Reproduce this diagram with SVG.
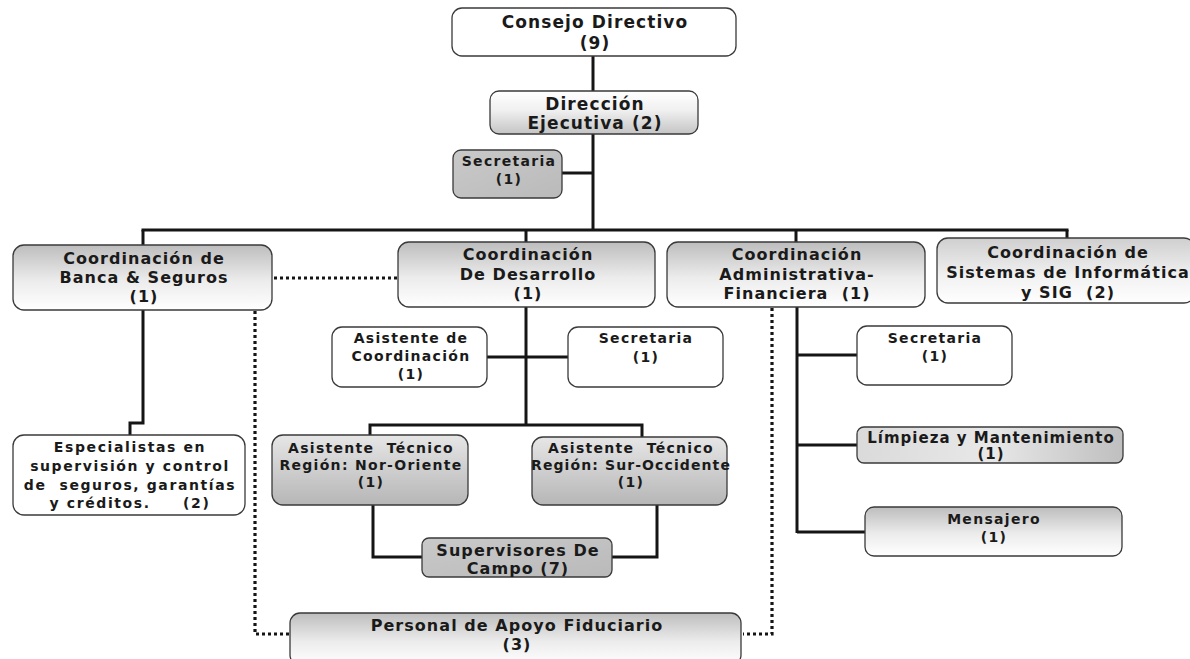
<svg xmlns="http://www.w3.org/2000/svg" width="1190" height="659" viewBox="0 0 1190 659">
<style>
.box{stroke:#3a3a3a;stroke-width:1.3}
.t{font-family:"DejaVu Sans","Liberation Sans",Arial,sans-serif;font-weight:bold;fill:#1a1a1a;text-anchor:middle}
.f18{font-size:17px;letter-spacing:1.1px}
.f17{font-size:16px;letter-spacing:1.05px}
.f16{font-size:15px;letter-spacing:1px}
.f15{font-size:14px;letter-spacing:1.3px}
.ln{stroke:#151515;stroke-width:3;fill:none}
.dot{stroke:#151515;stroke-width:3.2;fill:none;stroke-dasharray:3 3}
</style>
<defs>
<linearGradient id="gTop" x1="0" y1="0" x2="0" y2="1">
<stop offset="0" stop-color="#bdbdbd"/><stop offset="0.55" stop-color="#ececec"/><stop offset="1" stop-color="#ffffff"/>
</linearGradient>
<linearGradient id="gTopL" x1="0" y1="0" x2="0" y2="1">
<stop offset="0" stop-color="#cfcfcf"/><stop offset="0.6" stop-color="#f2f2f2"/><stop offset="1" stop-color="#ffffff"/>
</linearGradient>
<linearGradient id="gBot" x1="0" y1="0" x2="0" y2="1">
<stop offset="0" stop-color="#ffffff"/><stop offset="0.45" stop-color="#f0f0f0"/><stop offset="1" stop-color="#c4c4c4"/>
</linearGradient>
<linearGradient id="gAT" x1="0" y1="0" x2="0" y2="1">
<stop offset="0" stop-color="#e6e6e6"/><stop offset="1" stop-color="#b6b6b6"/>
</linearGradient>
<linearGradient id="gGray" x1="0" y1="0" x2="1" y2="1">
<stop offset="0" stop-color="#c9c9c9"/><stop offset="1" stop-color="#bababa"/>
</linearGradient>
<linearGradient id="gLimp" x1="0" y1="0" x2="1" y2="0">
<stop offset="0" stop-color="#dadada"/><stop offset="0.5" stop-color="#e8e8e8"/><stop offset="1" stop-color="#bfbfbf"/>
</linearGradient>
</defs>
<rect width="1190" height="659" fill="#ffffff"/>

<g id="connectors">
<line class="ln" x1="593" y1="56" x2="593" y2="91"/>
<line class="ln" x1="593" y1="134" x2="593" y2="230"/>
<line class="ln" x1="562" y1="173" x2="593" y2="173"/>
<line class="ln" x1="141.5" y1="230" x2="1068.5" y2="230"/>
<line class="ln" x1="143" y1="230" x2="143" y2="245"/>
<line class="ln" x1="526" y1="230" x2="526" y2="242"/>
<line class="ln" x1="796" y1="230" x2="796" y2="242"/>
<line class="ln" x1="1067" y1="230" x2="1067" y2="238"/>
<polyline class="ln" points="143,310 143,423 130,423 130,435"/>
<line class="ln" x1="526" y1="307" x2="526" y2="425"/>
<line class="ln" x1="487" y1="357" x2="568" y2="357"/>
<polyline class="ln" points="370,435 370,425 642,425 642,437"/>
<polyline class="ln" points="373,505 373,557 422,557"/>
<polyline class="ln" points="657,505 657,557 612,557"/>
<line class="ln" x1="797" y1="307" x2="797" y2="533"/>
<line class="ln" x1="797" y1="355" x2="857" y2="355"/>
<line class="ln" x1="797" y1="445" x2="857" y2="445"/>
<line class="ln" x1="797" y1="532" x2="865" y2="532"/>
<line class="dot" x1="274" y1="278" x2="398" y2="278"/>
<polyline class="dot" points="255,311 255,634 289,634"/>
<polyline class="dot" points="772,308 772,634 743,634"/>
</g>

<g id="consejo">
<rect class="box" x="452" y="8" width="284" height="48" rx="10" fill="#ffffff"/>
<text class="t f18" x="595" y="28">Consejo Directivo</text>
<text class="t f18" x="595" y="49">(9)</text>
</g>
<g id="direccion">
<rect class="box" x="490" y="91" width="208" height="43" rx="9" fill="url(#gBot)"/>
<text class="t f18" x="595" y="110">Dirección</text>
<text class="t f18" x="595" y="129">Ejecutiva (2)</text>
</g>
<g id="secretaria-dir">
<rect class="box" x="453" y="150" width="109" height="48" rx="8" fill="url(#gGray)"/>
<text class="t f15" x="509" y="166">Secretaria</text>
<text class="t f15" x="509" y="184">(1)</text>
</g>
<g id="banca">
<rect class="box" x="13" y="245" width="259" height="65" rx="11" fill="url(#gTop)"/>
<text class="t f17" x="144" y="264">Coordinación de</text>
<text class="t f17" x="144" y="283">Banca &amp; Seguros</text>
<text class="t f17" x="144" y="302">(1)</text>
</g>
<g id="desarrollo">
<rect class="box" x="398" y="242" width="257" height="65" rx="11" fill="url(#gTop)"/>
<text class="t f17" x="528" y="260">Coordinación</text>
<text class="t f17" x="528" y="280">De Desarrollo</text>
<text class="t f17" x="528" y="299">(1)</text>
</g>
<g id="administrativa">
<rect class="box" x="667" y="242" width="258" height="65" rx="11" fill="url(#gTop)"/>
<text class="t f17" x="797" y="260">Coordinación</text>
<text class="t f17" x="797" y="280">Administrativa-</text>
<text class="t f17" x="797" y="299" xml:space="preserve">Financiera  (1)</text>
</g>
<g id="sistemas">
<rect class="box" x="937" y="238" width="258" height="65" rx="11" fill="url(#gTopL)"/>
<text class="t f17" x="1068" y="258">Coordinación de</text>
<text class="t f17" x="1068" y="278">Sistemas de Informática</text>
<text class="t f17" x="1068" y="298" xml:space="preserve">y SIG  (2)</text>
</g>
<g id="asistente-coord">
<rect class="box" x="332" y="327" width="155" height="60" rx="10" fill="#ffffff"/>
<text class="t f15" x="411" y="343">Asistente de</text>
<text class="t f15" x="411" y="361">Coordinación</text>
<text class="t f15" x="411" y="379">(1)</text>
</g>
<g id="secretaria-des">
<rect class="box" x="568" y="327" width="155" height="60" rx="10" fill="#ffffff"/>
<text class="t f15" x="646" y="343">Secretaria</text>
<text class="t f15" x="646" y="362">(1)</text>
</g>
<g id="especialistas">
<rect class="box" x="13" y="435" width="232" height="80" rx="11" fill="#ffffff"/>
<text class="t f15" x="130" y="452" style="letter-spacing:1.6px">Especialistas en</text>
<text class="t f15" x="130" y="471" style="letter-spacing:1.6px">supervisión y control</text>
<text class="t f15" x="130" y="490" style="letter-spacing:1.6px" xml:space="preserve">de  seguros, garantías</text>
<text class="t f15" x="130" y="508" style="letter-spacing:1.6px" xml:space="preserve">y créditos.     (2)</text>
</g>
<g id="asistente-nor">
<rect class="box" x="272" y="435" width="196" height="70" rx="11" fill="url(#gAT)"/>
<text class="t f15" x="371" y="453" xml:space="preserve">Asistente  Técnico</text>
<text class="t f15" x="371" y="470">Región: Nor-Oriente</text>
<text class="t f15" x="371" y="487">(1)</text>
</g>
<g id="asistente-sur">
<rect class="box" x="532" y="437" width="195" height="68" rx="11" fill="url(#gAT)"/>
<text class="t f15" x="631" y="453" xml:space="preserve">Asistente  Técnico</text>
<text class="t f15" x="631" y="470" style="letter-spacing:1.1px">Región: Sur-Occidente</text>
<text class="t f15" x="631" y="487">(1)</text>
</g>
<g id="supervisores">
<rect class="box" x="422" y="538" width="190" height="39" rx="7" fill="url(#gGray)"/>
<text class="t f17" x="518" y="556">Supervisores De</text>
<text class="t f17" x="518" y="574">Campo (7)</text>
</g>
<g id="personal">
<rect class="box" x="290" y="613" width="451" height="52" rx="10" fill="url(#gTop)"/>
<text class="t f17" x="517" y="631">Personal de Apoyo Fiduciario</text>
<text class="t f17" x="517" y="650">(3)</text>
</g>
<g id="secretaria-adm">
<rect class="box" x="857" y="326" width="155" height="59" rx="10" fill="#ffffff"/>
<text class="t f15" x="935" y="343">Secretaria</text>
<text class="t f15" x="935" y="361">(1)</text>
</g>
<g id="limpieza">
<rect class="box" x="857" y="427" width="266" height="36" rx="7" fill="url(#gLimp)"/>
<text class="t f16" x="991" y="443">Límpieza y Mantenimiento</text>
<text class="t f16" x="991" y="459">(1)</text>
</g>
<g id="mensajero">
<rect class="box" x="865" y="507" width="257" height="49" rx="9" fill="url(#gTop)"/>
<text class="t f15" x="994" y="524">Mensajero</text>
<text class="t f15" x="994" y="542">(1)</text>
</g>
</svg>
